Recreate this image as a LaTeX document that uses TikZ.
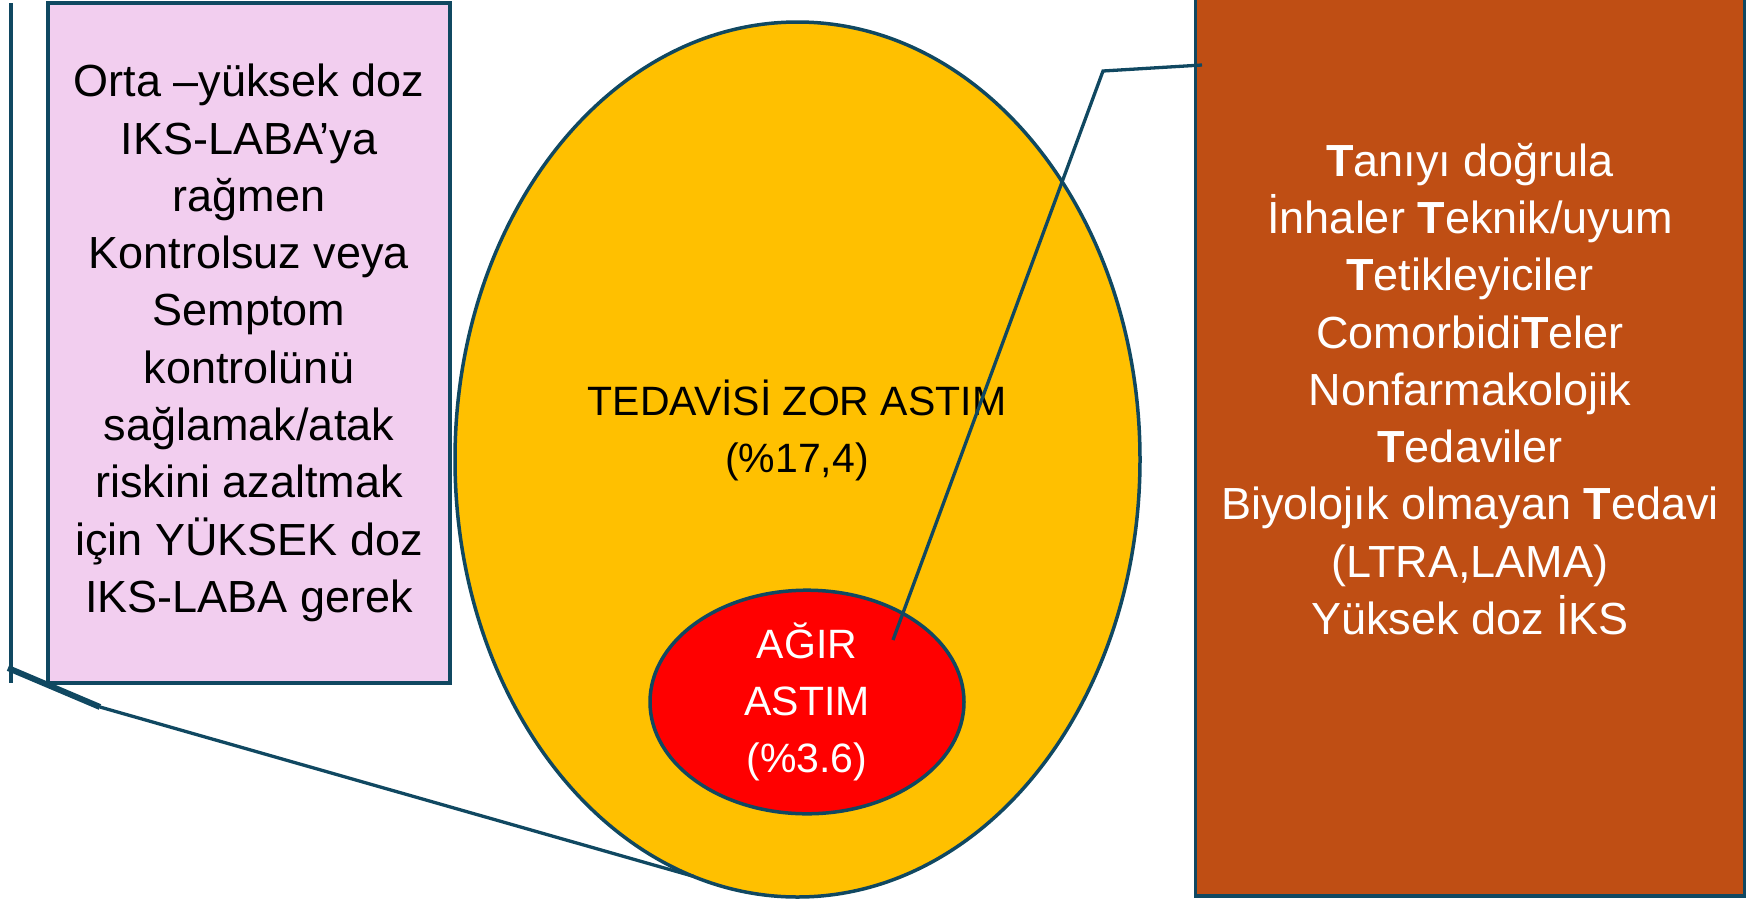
\documentclass[tikz,border=0pt]{standalone}
\usepackage{fontspec}
\setmainfont{Liberation Sans}
\usetikzlibrary{shapes.geometric}
\definecolor{edge}{HTML}{104861}
\definecolor{pinkfill}{HTML}{F2CEEF}
\definecolor{gold}{HTML}{FFC000}
\definecolor{rust}{HTML}{BF4E14}
\definecolor{alarm}{HTML}{FF0000}
\tikzset{
  outline/.style={draw=edge, line width=3.5pt},
  box/.style={outline, rectangle, inner sep=0pt, outer sep=0pt, align=center},
  oval/.style={outline, ellipse, inner sep=0pt, outer sep=0pt, align=center},
  bigtext/.style={font=\fontsize{45}{57.3}\selectfont},
  midtext/.style={font=\fontsize{41}{57}\selectfont},
  leader/.style={draw=edge, line width=3.3pt},
}
\begin{document}
\begin{tikzpicture}[x=1pt,y=-1pt]
\useasboundingbox (0,0) rectangle (1747,900);
\clip (0,0) rectangle (1747,900);

% left frame line
\coordinate (lefttop) at (11,3);
\coordinate (leftfoot) at (11,683);
\draw[leader] (lefttop) -- (leftfoot);

% definition box
\node[box, fill=pinkfill, minimum width=402, minimum height=680, bigtext] (pink) at (249,343)
  {Orta –yüksek doz\\IKS-LABA’ya\\rağmen\\Kontrolsuz veya\\Semptom\\kontrolünü\\sağlamak/atak\\riskini azaltmak\\için YÜKSEK doz\\IKS-LABA gerek};

% nested ellipses
\node[oval, fill=gold, minimum width=685, minimum height=875] (yel) at (797.5,459.5) {};
\node[midtext, align=center] (yeltxt) at (797,430) {TEDAVİSİ ZOR ASTIM\\(\%17,4)};
\node[oval, fill=alarm, minimum width=314, minimum height=221, text=white, midtext] (red) at (807,702)
  {AĞIR\\ASTIM\\(\%3.6)};

% checklist box
\node[box, fill=rust, minimum width=549, minimum height=1014, text=white, bigtext] (rustbox) at (1470,389)
  {\textbf{T}anıyı doğrula\\İnhaler \textbf{T}eknik/uyum\\\textbf{T}etikleyiciler\\Comorbidi\textbf{T}eler\\Nonfarmakolojik\\\textbf{T}edaviler\\Biyolojık olmayan \textbf{T}edavi\\(LTRA,LAMA)\\Yüksek doz İKS};

% callout from the definition box to the outer ellipse
\coordinate (calloutL) at (8,668);
\coordinate (kneeL) at (100,707);
\draw[leader, line width=6pt] (calloutL) -- (kneeL);
\draw[leader] (kneeL) -- (yel.256);

% callout from the inner ellipse to the checklist box
\coordinate (tipR) at (893,640);
\coordinate (kneeR) at (1103,71);
\coordinate (endR) at (1202,65);
\draw[leader] (tipR) -- (kneeR) -- (endR);
\end{tikzpicture}
\end{document}
